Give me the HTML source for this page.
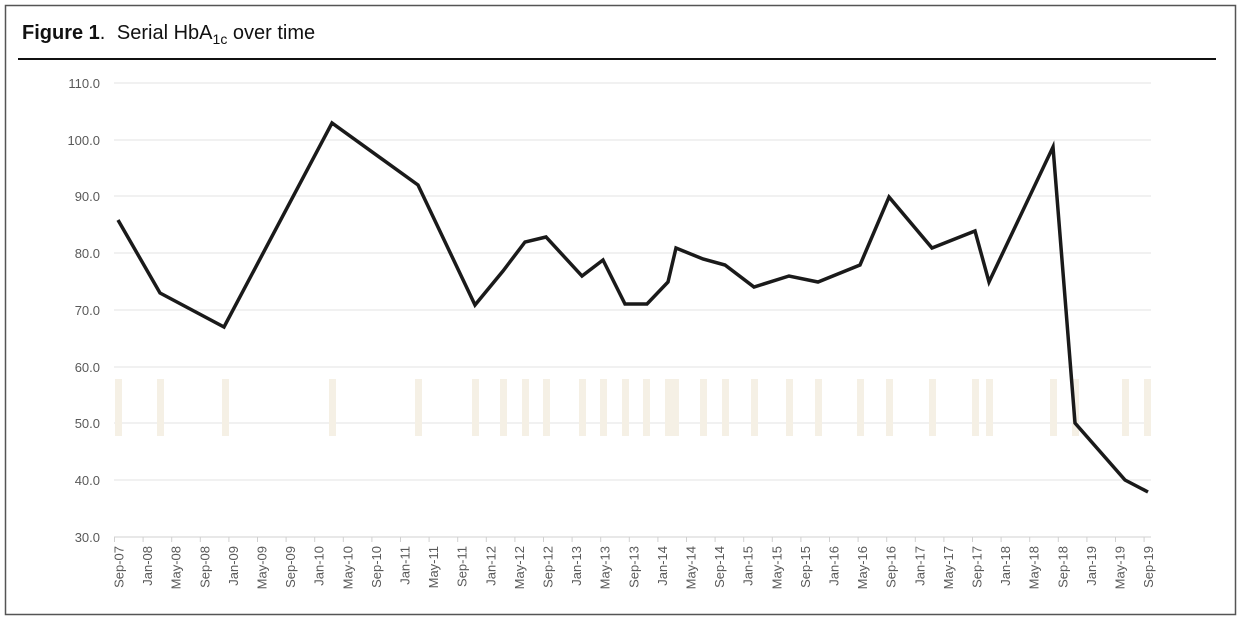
<!DOCTYPE html>
<html><head><meta charset="utf-8"><style>
html,body{margin:0;padding:0;background:#fff;}
svg{display:block;font-family:"Liberation Sans",sans-serif;}
</style></head><body>
<svg width="1243" height="624" viewBox="0 0 1243 624" xmlns="http://www.w3.org/2000/svg">
<rect x="5.5" y="5.5" width="1230" height="609" fill="#fff" stroke="#555" stroke-width="1.5"/>
<text x="22" y="39" font-size="20" fill="#111"><tspan font-weight="bold">Figure 1</tspan>.  <tspan dx="6">Serial HbA</tspan><tspan font-size="14" dy="5">1c</tspan><tspan dy="-5"> over time</tspan></text>
<line x1="18" y1="59" x2="1216" y2="59" stroke="#111" stroke-width="2"/>
<g stroke="#e3e3e3" stroke-width="1">
<line x1="114" x2="1151" y1="83" y2="83"/><line x1="114" x2="1151" y1="140" y2="140"/>
<line x1="114" x2="1151" y1="196" y2="196"/><line x1="114" x2="1151" y1="253" y2="253"/>
<line x1="114" x2="1151" y1="310" y2="310"/><line x1="114" x2="1151" y1="367" y2="367"/>
<line x1="114" x2="1151" y1="423" y2="423"/><line x1="114" x2="1151" y1="480" y2="480"/>
<line x1="114" x2="1151" y1="537" y2="537" stroke="#d0d0d0"/>
</g>
<g font-size="13" fill="#595959" text-anchor="end">
<text x="100" y="88">110.0</text><text x="100" y="145">100.0</text><text x="100" y="201">90.0</text>
<text x="100" y="258">80.0</text><text x="100" y="315">70.0</text><text x="100" y="372">60.0</text>
<text x="100" y="428">50.0</text><text x="100" y="485">40.0</text><text x="100" y="542">30.0</text>
</g>
<g fill="#f5f0e5">
<rect x="115" y="379" width="7" height="57"/><rect x="157" y="379" width="7" height="57"/>
<rect x="222" y="379" width="7" height="57"/><rect x="329" y="379" width="7" height="57"/>
<rect x="415" y="379" width="7" height="57"/><rect x="472" y="379" width="7" height="57"/>
<rect x="500" y="379" width="7" height="57"/><rect x="522" y="379" width="7" height="57"/>
<rect x="543" y="379" width="7" height="57"/><rect x="579" y="379" width="7" height="57"/>
<rect x="600" y="379" width="7" height="57"/><rect x="622" y="379" width="7" height="57"/>
<rect x="643" y="379" width="7" height="57"/><rect x="665" y="379" width="14" height="57"/>
<rect x="700" y="379" width="7" height="57"/><rect x="722" y="379" width="7" height="57"/>
<rect x="751" y="379" width="7" height="57"/><rect x="786" y="379" width="7" height="57"/>
<rect x="815" y="379" width="7" height="57"/><rect x="857" y="379" width="7" height="57"/>
<rect x="886" y="379" width="7" height="57"/><rect x="929" y="379" width="7" height="57"/>
<rect x="972" y="379" width="7" height="57"/><rect x="986" y="379" width="7" height="57"/>
<rect x="1050" y="379" width="7" height="57"/><rect x="1072" y="379" width="7" height="57"/>
<rect x="1122" y="379" width="7" height="57"/><rect x="1144" y="379" width="7" height="57"/>
</g>
<polyline fill="none" stroke="#1a1a1a" stroke-width="3.5" stroke-linejoin="miter" points="118,220 160,293 224,327 332,123 418,185 475,305 503,271 525,242 546,237 582,276 603,260 625,304 647,304 668,282 676,248 703,259 725,265 754,287 789,276 818,282 860,265 889,197 932,248 975,231 989,282 1053,147 1075,423 1125,480 1148,492"/>
<g id="ticks" stroke="#d0d0d0"></g>
<g id="labs" font-size="13" fill="#595959"></g>
<script>
var m=["Sep","Jan","May"],t=document.getElementById("ticks"),l=document.getElementById("labs"),ns="http://www.w3.org/2000/svg";
for(var i=0;i<37;i++){var x=114.5+i*28.6;var ln=document.createElementNS(ns,"line");ln.setAttribute("x1",x);ln.setAttribute("x2",x);ln.setAttribute("y1",537);ln.setAttribute("y2",542);t.appendChild(ln);
var yr=7+Math.floor((i+2)/3);var s=m[i%3]+"-"+(yr<10?"0"+yr:yr);var tx=document.createElementNS(ns,"text");tx.setAttribute("text-anchor","end");tx.setAttribute("transform","translate("+(x+9)+",546) rotate(-90)");tx.textContent=s;l.appendChild(tx);}
</script>
</svg>
</body></html>
